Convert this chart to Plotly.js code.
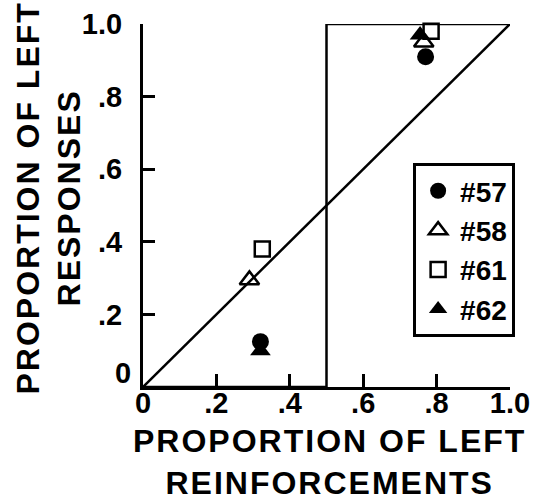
<!DOCTYPE html>
<html>
<head>
<meta charset="utf-8">
<script src="https://cdn.plot.ly/plotly-3.0.1.min.js"></script>
<style>
  html, body { margin: 0; padding: 0; background: #fff; }
  .annotation-text { letter-spacing: 2px; }
</style>
</head>
<body>
<div id="chart" style="width:537px;height:501px;"></div>
<script>
// Reference lines
const matchX = [0, 1];
const matchY = [0, 1];
const stepX = [0, 0.5, 0.5, 1];
const stepY = [0, 0, 1, 1];

// Subjects
const subjects = ['#57', '#58', '#61', '#62'];
const x57 = [0.32, 0.77];
const y57 = [0.125, 0.91];
const x58 = [0.29, 0.765];
const y58 = [0.295, 0.95];
const x61 = [0.325, 0.785];
const y61 = [0.38, 0.98];
const x62 = [0.32, 0.755];
const y62 = [0.10, 0.97];

// Ticks and titles
const tickVals = [0, 0.2, 0.4, 0.6, 0.8, 1.0];
const xTickText = ['0', '.2', '.4', '.6', '.8', '1.0'];
const yTickVals = [0.2, 0.4, 0.6, 0.8, 1.0];
const yTickText = ['.2', '.4', '.6', '.8', '1.0'];
const xTitle = 'PROPORTION OF LEFT<br>REINFORCEMENTS';
const yTitle = 'PROPORTION OF LEFT<br>RESPONSES';

const FONT = 'Arial, "Liberation Sans", sans-serif';

const lineStyle = {color: '#000', width: 2.5};
const traces = [
  {x: matchX, y: matchY, mode: 'lines', line: lineStyle, showlegend: false, hoverinfo: 'skip'},
  {x: stepX, y: stepY, mode: 'lines', line: lineStyle, showlegend: false, hoverinfo: 'skip'},
  {x: x57, y: y57, name: subjects[0], mode: 'markers', cliponaxis: false,
   marker: {symbol: 'circle', size: 17, color: '#000'}},
  {x: x58, y: y58, name: subjects[1], mode: 'markers', cliponaxis: false,
   marker: {symbol: 'triangle-up-open', size: 17, color: '#000', line: {width: 2.5, color: '#000'}}},
  {x: x61, y: y61, name: subjects[2], mode: 'markers', cliponaxis: false,
   marker: {symbol: 'square-open', size: 15, color: '#000', line: {width: 2.5, color: '#000'}}},
  {x: x62, y: y62, name: subjects[3], mode: 'markers', cliponaxis: false,
   marker: {symbol: 'triangle-up', size: 18, color: '#000'}}
];

const layout = {
  width: 537, height: 501,
  margin: {l: 143, r: 27, t: 24, b: 114},
  paper_bgcolor: '#fff', plot_bgcolor: '#fff',
  font: {family: FONT, color: '#000'},
  showlegend: true,
  legend: {
    x: 0.736, y: 0.617, xanchor: 'left', yanchor: 'top',
    bordercolor: '#000', borderwidth: 3, bgcolor: '#fff',
    font: {family: FONT, size: 28, weight: 'bold', color: '#000'},
    itemwidth: 34,
    tracegroupgap: 0
  },
  xaxis: {
    range: [0, 1], showgrid: false, zeroline: false,
    showline: true, linewidth: 3, linecolor: '#000',
    ticks: 'inside', ticklen: 13, tickwidth: 3, tickcolor: '#000',
    tickvals: tickVals, ticktext: xTickText,
    tickfont: {family: FONT, size: 29, weight: 'bold'},
    ticklabelstandoff: -12
  },
  yaxis: {
    range: [0, 1], showgrid: false, zeroline: false,
    showline: true, linewidth: 3, linecolor: '#000',
    ticks: 'inside', ticklen: 12, tickwidth: 3, tickcolor: '#000',
    tickvals: yTickVals, ticktext: yTickText,
    tickfont: {family: FONT, size: 29, weight: 'bold'},
    ticklabelstandoff: 12
  },
  annotations: [
    {x: 0, y: 0, xref: 'x', yref: 'y', text: '0', showarrow: false,
     xanchor: 'right', yanchor: 'bottom', xshift: -8, yshift: -4,
     font: {family: FONT, size: 29, weight: 'bold', color: '#000'}},
    {x: 0.5, y: 0, xref: 'paper', yref: 'paper', text: xTitle, showarrow: false,
     xanchor: 'center', yanchor: 'top', xshift: 3, yshift: -34, align: 'center',
     font: {family: FONT, size: 32, weight: 'bold', color: '#000'}},
    {x: 0, y: 0.5, xref: 'paper', yref: 'paper', text: yTitle, showarrow: false,
     textangle: -90, xanchor: 'right', yanchor: 'middle', xshift: -54, yshift: 7, align: 'center',
     font: {family: FONT, size: 32, weight: 'bold', color: '#000'}}
  ]
};

Plotly.newPlot('chart', traces, layout, {displayModeBar: false, staticPlot: true});
</script>
</body>
</html>
